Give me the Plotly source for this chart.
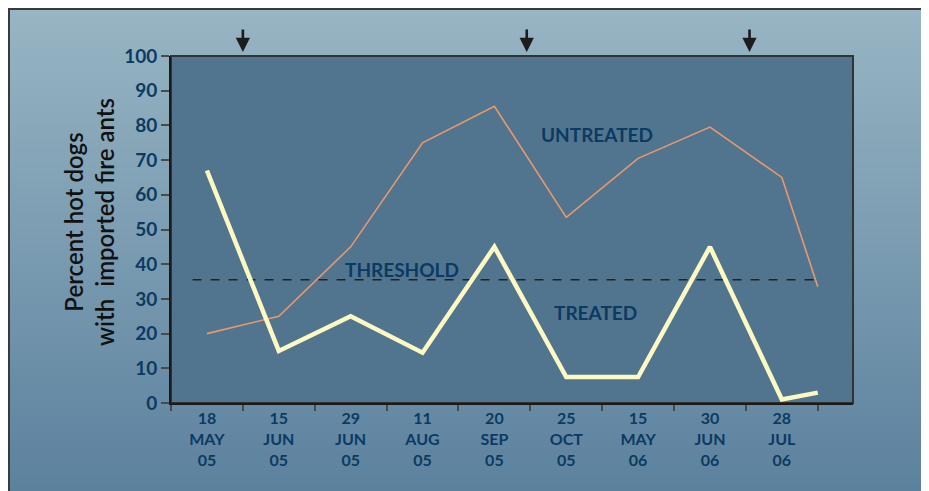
import plotly.graph_objects as go

# sample dates (one category per slot) and the values
dates = ["18<br>MAY<br>05", "15<br>JUN<br>05", "29<br>JUN<br>05", "11<br>AUG<br>05",
         "20<br>SEP<br>05", "25<br>OCT<br>05", "15<br>MAY<br>06", "30<br>JUN<br>06",
         "28<br>JUL<br>06"]
date_pos = [0.5, 1.5, 2.5, 3.5, 4.5, 5.5, 6.5, 7.5, 8.5]

# last point of each line sits after the final date
line_x = [0.5, 1.5, 2.5, 3.5, 4.5, 5.5, 6.5, 7.5, 8.5, 9.0]
treated = [67, 15, 25, 14.5, 45, 7.5, 7.5, 45, 1, 3]
untreated = [20, 25, 45, 75, 85.5, 53.5, 70.5, 79.5, 65, 33.5]

threshold = 35.5
threshold_span = [0.3, 9.05]

# treatment applications (arrows above the plot)
treatment_x = [1.0, 4.95, 8.05]

NAVY = "#0b3a62"
FONT = "Lato"

W, H = 916, 491
# plot area in figure pixels
L, R = 163, 845
T, B = 48, 395

def px_x(p):
    return (p - L) / (R - L)

def px_y(p):
    return (B - p) / (B - T)

fig = go.Figure()

fig.add_trace(go.Scatter(x=threshold_span, y=[threshold, threshold], mode="lines",
                         line=dict(color="#222222", width=1.5, dash="dash"),
                         hoverinfo="skip"))
fig.add_trace(go.Scatter(x=line_x, y=untreated, mode="lines", name="Untreated",
                         line=dict(color="#e8996c", width=1.6)))
fig.add_trace(go.Scatter(x=line_x, y=treated, mode="lines", name="Treated",
                         line=dict(color="#fdf9c2", width=4.5)))

# background gradient as thin bands (paper coords)
top_rgb = (151, 181, 195)
bot_rgb = (92, 129, 158)
n = 60
shapes = []
for i in range(n):
    f = i / (n - 1)
    c = tuple(round(top_rgb[k] + (bot_rgb[k] - top_rgb[k]) * f) for k in range(3))
    y0 = H * i / n
    y1 = H * (i + 1) / n + 1
    shapes.append(dict(type="rect", xref="paper", yref="paper", layer="below",
                       x0=px_x(0), x1=px_x(W), y0=px_y(y1), y1=px_y(y0),
                       fillcolor="rgb(%d,%d,%d)" % c, line=dict(width=0)))
# outer frame
shapes.append(dict(type="rect", xref="paper", yref="paper", layer="below",
                   x0=px_x(1), x1=px_x(W - 1), y0=px_y(H + 5), y1=px_y(1),
                   fillcolor="rgba(0,0,0,0)", line=dict(color="#3a3a3a", width=2)))
# plot area
shapes.append(dict(type="rect", xref="paper", yref="paper", layer="below",
                   x0=0, x1=1, y0=0, y1=1,
                   fillcolor="#52758f", line=dict(color="#333333", width=2)))

label_font = dict(family=FONT, size=19, color=NAVY, weight="bold")
annotations = [
    dict(text="UNTREATED", x=5.93, y=77.5, showarrow=False, font=label_font),
    dict(text="THRESHOLD", x=3.22, y=38.5, showarrow=False, font=label_font),
    dict(text="TREATED", x=5.9, y=26, showarrow=False, font=label_font),
    dict(text="Percent hot dogs<br>with  imported fire ants", xref="paper", yref="paper",
         x=px_x(81), y=px_y(214), xanchor="center", yanchor="middle", textangle=-90,
         showarrow=False, font=dict(family=FONT, size=24, color="#111111", weight=600)),
]
for tx in treatment_x:
    annotations.append(dict(x=tx, y=px_y(44), yref="paper", text="", showarrow=True,
                            ax=0, ay=-24, arrowhead=2, arrowsize=1.1, arrowwidth=2.6,
                            arrowcolor="#1c1c1c"))

fig.update_layout(
    width=W, height=H,
    margin=dict(l=L, r=W - R, t=T, b=H - B),
    paper_bgcolor="white",
    plot_bgcolor="rgba(0,0,0,0)",
    showlegend=False,
    shapes=shapes,
    annotations=annotations,
    font=dict(family=FONT),
)
fig.update_xaxes(range=[0, 9.49], tickvals=date_pos, ticktext=dates, ticks="",
                 showgrid=False, zeroline=False, showline=True, linecolor="#1a1a1a",
                 linewidth=2,
                 tickfont=dict(family=FONT, size=16, color=NAVY, weight="bold"),
                 minor=dict(tick0=0, dtick=1, ticks="outside", ticklen=6,
                            tickcolor="#4a4a4a", tickwidth=1.5, showgrid=False))
fig.update_yaxes(range=[0, 100], dtick=10, ticks="outside", ticklen=8,
                 tickcolor="#4a4a4a", tickwidth=1.5, showgrid=False, zeroline=False,
                 showline=True, linecolor="#1a1a1a", linewidth=2,
                 tickfont=dict(family=FONT, size=19, color=NAVY, weight="bold"))

fig.write_html("out.html")
